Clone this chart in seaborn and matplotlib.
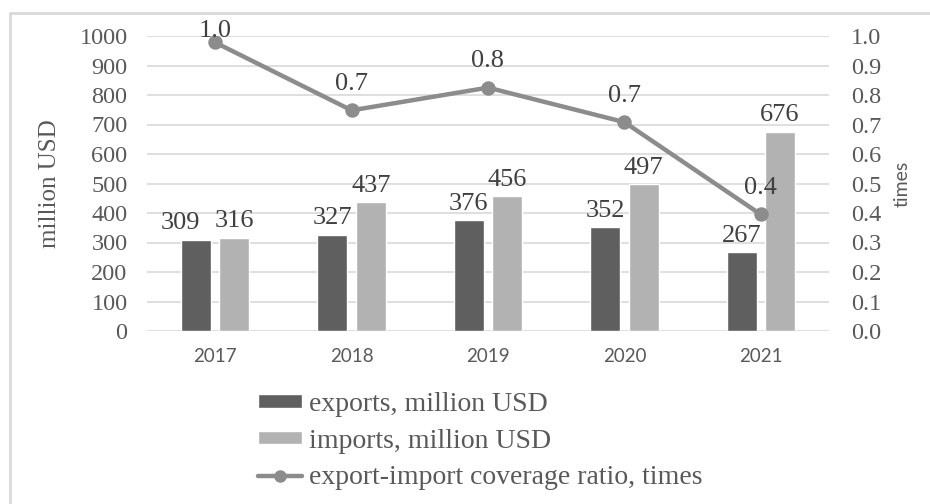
import numpy as np
import pandas as pd
import matplotlib
matplotlib.use("Agg")
import matplotlib.pyplot as plt
import seaborn as sns
from matplotlib.lines import Line2D

# datos
years = ["2017", "2018", "2019", "2020", "2021"]
exports = [309, 327, 376, 352, 267]
imports = [316, 437, 456, 497, 676]
ratio = [0.978, 0.748, 0.825, 0.708, 0.395]

exp_label = "exports, million USD"
imp_label = "imports, million USD"
ratio_label = "export-import coverage ratio, times"

SERIF = "Liberation Serif"
SANS = "Lato"
TXT = "#595959"

sns.set_theme(style="white")
plt.rcParams["font.family"] = [SERIF, "DejaVu Sans"]

df = pd.DataFrame({
    "year": years * 2,
    "value": exports + imports,
    "serie": [exp_label] * len(years) + [imp_label] * len(years),
})

fig = plt.figure(figsize=(9.3, 5.04), dpi=100)
ax = fig.add_axes([147 / 930, 1 - 331 / 504, (829 - 147) / 930, (331 - 36) / 504])

sns.barplot(data=df, x="year", y="value", hue="serie", ax=ax,
            palette=["#5f5f5f", "#b2b2b2"], width=0.564, gap=0.22,
            saturation=1, errorbar=None)

ax.set_ylim(0, 1000)
ax.set_yticks(np.arange(0, 1001, 100))
ax.grid(axis="y", color="#d9d9d9", linewidth=1.2)
ax.set_axisbelow(True)
for s in ax.spines.values():
    s.set_visible(False)
ax.tick_params(axis="y", length=0, pad=14, labelsize=17.5, labelcolor=TXT)
ax.tick_params(axis="x", length=0, pad=12, labelsize=13.5, labelcolor=TXT)
for lab in ax.get_xticklabels():
    lab.set_family(SANS)
ax.set_xlabel("")
ax.set_ylabel("million USD", fontsize=18, color=TXT, labelpad=13)

etiquetas = []
for cont in ax.containers:
    etiquetas.append(ax.bar_label(cont, fmt="%d", padding=4, fontsize=19, color="#404040"))
# la etiqueta 309 va corrida a la izquierda para no chocar con 316
etiquetas[0][0].xyann = (-11.5, 4)

handles, labels = ax.get_legend_handles_labels()
ax.get_legend().remove()

# eje secundario: razon de cobertura
ax2 = ax.twinx()
sns.pointplot(x=years, y=ratio, ax=ax2, color="#8c8c8c", markers="o",
              markersize=8, linewidth=3.2, errorbar=None, label=ratio_label)
ax2.set_ylim(0, 1)
ax2.set_yticks(np.arange(0, 1.01, 0.1))
ax2.set_yticklabels([f"{t:.1f}" for t in np.arange(0, 1.01, 0.1)])
for s in ax2.spines.values():
    s.set_visible(False)
ax2.tick_params(axis="y", length=0, pad=16, labelsize=17.5, labelcolor=TXT)
ax2.set_ylabel("times", fontsize=14, color=TXT, family=SANS, labelpad=9)
ax2.grid(False)
if ax2.get_legend() is not None:
    ax2.get_legend().remove()

# etiquetas de la linea (la primera queda mas pegada al punto, como en el original)
for i, r in enumerate(ratio):
    dy = 8 if i == 0 else 19
    ax2.annotate(f"{r:.1f}", (i, r), xytext=(0, dy), textcoords="offset points",
                 ha="center", va="center", fontsize=19, color="#404040")

line_handle = Line2D([], [], color="#8c8c8c", linewidth=3.2, marker="o", markersize=8)
fig.legend(handles + [line_handle], labels + [ratio_label],
           loc="upper left", bbox_to_anchor=(258 / 930, 1 - 392 / 504),
           frameon=False, fontsize=20, labelcolor=TXT,
           handlelength=1.6, handleheight=0.36, handletextpad=0.25,
           labelspacing=0.42, borderpad=0, borderaxespad=0)

# borde exterior (solo arriba e izquierda visibles)
fig.add_artist(Line2D([10 / 930, 10 / 930], [0, 1 - 13 / 504], color="#d9d9d9", linewidth=2))
fig.add_artist(Line2D([10 / 930, 1], [1 - 13 / 504, 1 - 13 / 504], color="#d9d9d9", linewidth=2))

fig.savefig("out.png", dpi=100)
